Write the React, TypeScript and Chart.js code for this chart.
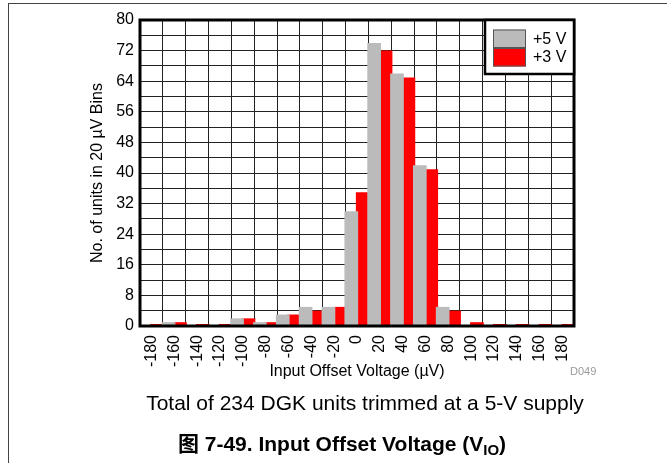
import React, { useEffect, useRef } from 'react';
import { Chart, registerables } from 'chart.js';

Chart.register(...registerables);

// ---- data ----
const categories = ['-180', '-160', '-140', '-120', '-100', '-80', '-60', '-40', '-20', '0', '20', '40', '60', '80', '100', '120', '140', '160', '180'];
const supply5V = [0, 1, 0, 0, 2, 1, 3, 5, 5, 30, 74, 66, 42, 5, 0, 0, 0, 0, 0];
const supply3V = [0, 1, 0, 0, 2, 1, 3, 4, 5, 35, 72, 65, 41, 4, 1, 0, 0, 0, 0];
const seriesLabels = ['+5 V', '+3 V'];
const yTickLabels = [0, 8, 16, 24, 32, 40, 48, 56, 64, 72, 80];

const FONT = "'Liberation Sans', Arial, Helvetica, sans-serif";
const GRAY = '#BBBBBB';
const RED = '#FF0000';

const frameAndLegend = {
  id: 'frameAndLegend',
  afterDatasetsDraw(chart: any) {
    const { ctx, chartArea } = chart;
    ctx.save();
    ctx.strokeStyle = '#000';
    ctx.lineWidth = 3;
    ctx.strokeRect(chartArea.left, chartArea.top, chartArea.right - chartArea.left, chartArea.bottom - chartArea.top);
    ctx.restore();
  },
  afterDraw(chart: any) {
    const { ctx, chartArea } = chart;
    const w = 89;
    const h = 54;
    const x0 = chartArea.right - w;
    const y0 = chartArea.top;
    ctx.save();
    ctx.fillStyle = '#fff';
    ctx.fillRect(x0, y0, w, h);
    ctx.strokeStyle = '#000';
    ctx.lineWidth = 2.5;
    ctx.strokeRect(x0, y0, w, h);
    const sw = 33;
    const sh = 18.5;
    const sx = x0 + 8;
    let sy = y0 + 9.5;
    chart.data.datasets.forEach((ds: any) => {
      ctx.fillStyle = ds.backgroundColor;
      ctx.fillRect(sx, sy, sw, sh);
      ctx.strokeStyle = '#555';
      ctx.lineWidth = 1;
      ctx.strokeRect(sx + 0.5, sy + 0.5, sw - 1, sh - 1);
      ctx.fillStyle = '#000';
      ctx.font = `16px ${FONT}`;
      ctx.textBaseline = 'middle';
      ctx.textAlign = 'left';
      ctx.fillText(ds.label, sx + sw + 7, sy + sh / 2 + 0.5);
      sy += sh;
    });
    ctx.restore();
  },
};

export default function App() {
  const ref = useRef<HTMLCanvasElement | null>(null);

  useEffect(() => {
    if (!ref.current) return;
    Chart.defaults.font.family = FONT;
    Chart.defaults.color = '#000';
    const chart = new Chart(ref.current, {
      type: 'bar',
      data: {
        labels: categories,
        datasets: [
          {
            label: seriesLabels[0],
            data: supply5V,
            backgroundColor: GRAY,
            borderWidth: 0,
            categoryPercentage: 1,
            barPercentage: 1.2,
          },
          {
            label: seriesLabels[1],
            data: supply3V,
            backgroundColor: RED,
            borderWidth: 0,
            categoryPercentage: 1,
            barPercentage: 1.2,
            minBarLength: 2,
          },
        ],
      },
      options: {
        responsive: false,
        animation: false,
        events: [],
        layout: { padding: { left: 88, right: 93, top: 20, bottom: 82 } },
        plugins: {
          legend: { display: false },
          tooltip: { enabled: false },
          title: { display: false },
        },
        scales: {
          x: {
            type: 'category',
            offset: true,
            grid: { display: true, offset: true, color: '#222', lineWidth: 1, drawTicks: false },
            border: { display: false },
            ticks: {
              font: { size: 16 },
              color: '#000',
              maxRotation: 90,
              minRotation: 90,
              autoSkip: false,
              padding: 9,
            },
            title: {
              display: true,
              text: 'Input Offset Voltage (\u00B5V)',
              font: { size: 16 },
              color: '#000',
              padding: 0,
            },
            afterFit(scale: any) {
              scale.height = 55;
            },
          },
          y: {
            min: 0,
            max: 80,
            grid: { color: '#222', lineWidth: 1, drawTicks: false },
            border: { display: false },
            ticks: {
              stepSize: 4,
              font: { size: 16 },
              color: '#000',
              padding: 6,
              autoSkip: false,
              callback: (v: any) => (yTickLabels.includes(Number(v)) ? String(v) : ''),
            },
            title: {
              display: true,
              text: 'No. of units in 20 \u00B5V Bins',
              font: { size: 16 },
              color: '#000',
              padding: 0,
            },
            afterFit(scale: any) {
              scale.width = 52;
            },
          },
        },
      },
      plugins: [frameAndLegend],
    });
    return () => chart.destroy();
  }, []);

  return (
    <div style={{ position: 'absolute', left: 0, top: 0, width: 667, height: 463, background: '#fff', overflow: 'hidden', fontFamily: FONT }}>
      <div style={{ position: 'absolute', left: 8, top: 3, width: 659, height: 460, borderLeft: '1px solid #444', borderTop: '1px solid #444' }} />
      <canvas ref={ref} width={667} height={463} style={{ position: 'absolute', left: 0, top: 0, width: 667, height: 463 }} />
      <div style={{ position: 'absolute', left: 570, top: 364, fontSize: 11, color: '#9a9a9a', lineHeight: '14px', whiteSpace: 'nowrap' }}>D049</div>
      <div style={{ position: 'absolute', left: 365, top: 390, transform: 'translateX(-50%)', fontSize: 21, color: '#000', lineHeight: '26px', whiteSpace: 'nowrap' }}>
        Total of 234 DGK units trimmed at a 5-V supply
      </div>
      <div style={{ position: 'absolute', left: 342, top: 429, transform: 'translateX(-50%)', fontSize: 21, fontWeight: 'bold', color: '#000', lineHeight: '26px', whiteSpace: 'nowrap' }}>
        <span style={{ fontFamily: "'Noto Sans CJK SC', sans-serif", fontWeight: 'bold' }}>图</span> 7-49. Input Offset Voltage (V
        <sub style={{ fontSize: 15, verticalAlign: '-4px', lineHeight: 0 }}>IO</sub>)
      </div>
    </div>
  );
}
